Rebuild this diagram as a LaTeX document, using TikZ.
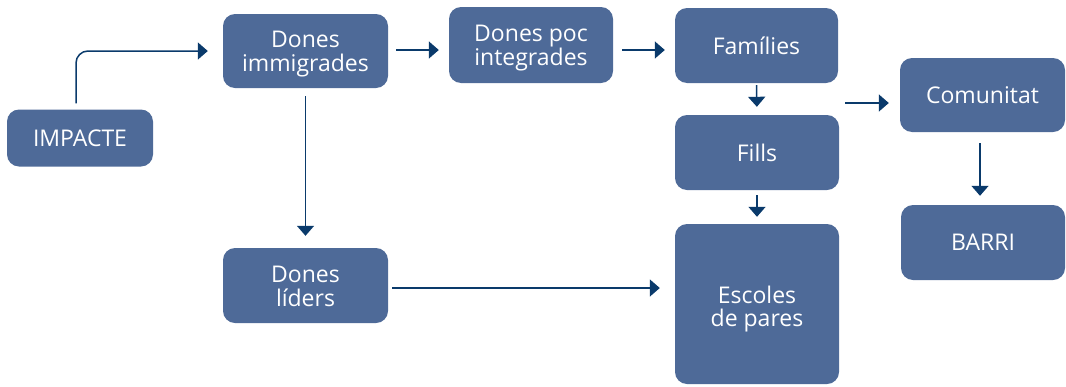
\documentclass[tikz,border=0pt]{standalone}
\usepackage{fontspec}
\setmainfont{Open Sans}
\usetikzlibrary{arrows.meta}
\definecolor{boxfill}{HTML}{4E6A98}
\definecolor{arrcol}{HTML}{0A3A6B}
\newcommand{\upstrut}[1]{\rule{0pt}{#1pt}}
\begin{document}
\begin{tikzpicture}[x=1pt,y=-1pt,
  box/.style={fill=boxfill, rounded corners=12pt, text=white, align=center,
    font=\fontsize{23}{23.5}\selectfont, inner sep=0pt},
  arr/.style={draw=arrcol, line width=1.5pt, -{Triangle[length=10pt,width=17pt]}}]
\useasboundingbox (0,0) rectangle (1066,386);
\node[box, minimum width=146pt, minimum height=57pt] (impacte) at (80,138) {IMPACTE};
\node[box, minimum width=165pt, minimum height=74pt] (immig) at (305.5,51) {\upstrut{22.5}Dones\\immigrades};
\node[box, minimum width=164pt, minimum height=76pt] (poc) at (531,45) {\upstrut{22.5}Dones poc\\integrades};
\node[box, minimum width=163pt, minimum height=75pt] (fam) at (756.5,45.5) {Famílies};
\node[box, minimum width=164pt, minimum height=75pt] (fills) at (757,152.5) {Fills};
\node[box, minimum width=164pt, minimum height=160pt] (escoles) at (757,304) {\upstrut{27.5}Escoles\\de pares};
\node[box, minimum width=165pt, minimum height=74pt] (comunitat) at (982.5,95) {Comunitat};
\node[box, minimum width=164pt, minimum height=75pt] (barri) at (983,242.5) {BARRI};
\node[box, minimum width=165pt, minimum height=75pt] (lideres) at (305.5,285.5) {\upstrut{18.5}Dones\\líders};
\coordinate (cstart) at (845,103);
\draw[arr, rounded corners=12pt, shorten <=6pt, shorten >=15pt] ([xshift=-4pt]impacte.north) |- (immig.west);
\draw[arr, shorten <=8pt, shorten >=10pt] ([yshift=1pt]immig.east) -- ([yshift=1pt]immig.east -| poc.west);
\draw[arr, shorten <=9pt, shorten >=10pt] ([yshift=-5pt]poc.east) -- ([yshift=-5pt]poc.east -| fam.west);
\draw[arr, shorten <=2pt, shorten >=8pt] (fam.south) -- (fills.north);
\draw[arr, shorten <=5pt, shorten >=7pt] (fills.south) -- (escoles.north);
\draw[arr, shorten >=11pt] (cstart) -- (cstart -| comunitat.west);
\draw[arr, shorten <=11pt, shorten >=9pt] ([xshift=-2.5pt]comunitat.south) -- ([xshift=-2.5pt]comunitat.south |- barri.north);
\draw[arr, shorten <=8pt, shorten >=12pt] (immig.south) -- (lideres.north);
\draw[arr, shorten <=4pt, shorten >=15pt] ([yshift=-2.5pt]lideres.east) -- ([yshift=-2.5pt]lideres.east -| escoles.west);
\end{tikzpicture}
\end{document}
